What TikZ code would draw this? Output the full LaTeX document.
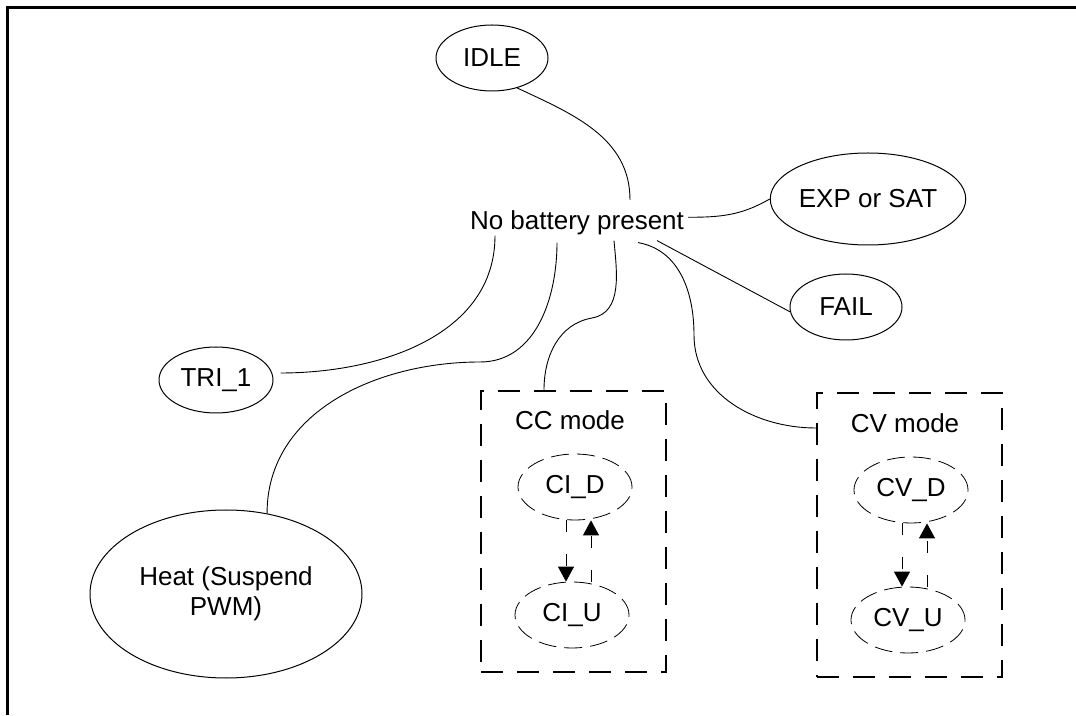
\documentclass[tikz,border=0pt]{standalone}
\usepackage{fontspec}
\setmainfont{Liberation Sans}
\usetikzlibrary{shapes.geometric, arrows.meta}

\begin{document}
\begin{tikzpicture}[x = 1pt, y = 1pt,
    every node/.style = {font = \fontsize{26}{30}\selectfont},
    fsm/.style = {draw, ellipse, inner sep = 0pt, line width = 1pt},
    substate/.style = {draw, ellipse, inner sep = 0pt, line width = .8pt,
      dash pattern = on 18pt off 8pt, minimum width = 114pt, minimum height = 66pt},
    modebox/.style = {draw, line width = 2pt, dash pattern = on 22pt off 14pt,
      minimum width = 185pt},
    link/.style = {line width = .9pt},
    flow/.style = {line width = 1pt, dash pattern = on 12pt off 22pt,
      -{Triangle[length = 15pt, width = 16pt]}}]
    \useasboundingbox (0, 0) rectangle (1076, 715);
    \draw [line width = 2.5pt] (7.5, 0) -- (7.5, 707.5) -- (1076, 707.5);

    \node (idle) at (492, 657) [fsm, minimum width = 112pt, minimum height = 66pt] {IDLE};
    \node (nb)   at (577, 485) [anchor = base, inner sep = 0pt] {No battery present};
    \node (exp)  at (868, 516) [fsm, minimum width = 156pt, minimum height = 92pt] {EXP or SAT};
    \node (fail) at (846, 408) [fsm, minimum width = 112pt, minimum height = 66pt] {FAIL};
    \node (tri)  at (216, 335) [fsm, minimum width = 114pt, minimum height = 66pt] {TRI\_1};
    \node (heat) at (226, 121) [fsm, minimum width = 272pt, minimum height = 168pt,
      align = center] {Heat (Suspend\\PWM)};

    % charging modes
    \node (cc) at (573.5, 183.5) [modebox, minimum height = 281pt] {};
    \node (cv) at (909.5, 180)   [modebox, minimum height = 284pt] {};
    \node (cclabel) at (570, 285) [anchor = base] {CC mode};
    \node (cvlabel) at (905, 282) [anchor = base] {CV mode};
    \node (cid) at (575, 228) [substate] {CI\_D};
    \node (ciu) at (572, 100) [substate] {CI\_U};
    \node (cvd) at (911, 225) [substate] {CV\_D};
    \node (cvu) at (908,  95) [substate] {CV\_U};

    \coordinate (hk) at (480, 353);
    \coordinate (ck) at (592, 397);
    \coordinate (vk) at (694, 380);

    \draw [link] (idle.-50) to [out = -25, in = 90] ([shift = {(53pt, 11pt)}]nb.north);
    \draw [link] ([shift = {(4pt, 6pt)}]nb.east) to [out = 0, in = -150] (exp.west);
    \draw [link] ([shift = {(80pt, -5pt)}]nb.south) -- (fail.185);
    \draw [link] ([xshift = -82pt]nb.south) to [out = -90, in = 0] ([shift = {(7pt, 7pt)}]tri.east);
    \draw [link] ([shift = {(-20pt, -7pt)}]nb.south) to [out = -90, in = 0] (hk)
      to [out = 180, in = 90] (heat.63);
    \draw [link] ([shift = {(37pt, -5pt)}]nb.south) to [out = -85, in = 10] (ck)
      to [out = 190, in = 90] ([xshift = -29.5pt]cc.north);
    \draw [link] ([shift = {(61pt, -7pt)}]nb.south) to [out = -10, in = 90] (vk)
      to [out = -90, in = 180] ([yshift = 107pt]cv.west);

    \draw [flow] ([xshift = -9pt]cid.south) -- ([xshift = -6pt]ciu.north);
    \draw [flow] ([xshift = 19pt]ciu.north) -- ([xshift = 16pt]cid.south);
    \draw [flow] ([xshift = -9pt]cvd.south) -- ([xshift = -6pt]cvu.north);
    \draw [flow] ([xshift = 19pt]cvu.north) -- ([xshift = 16pt]cvd.south);
  \end{tikzpicture}
\end{document}
